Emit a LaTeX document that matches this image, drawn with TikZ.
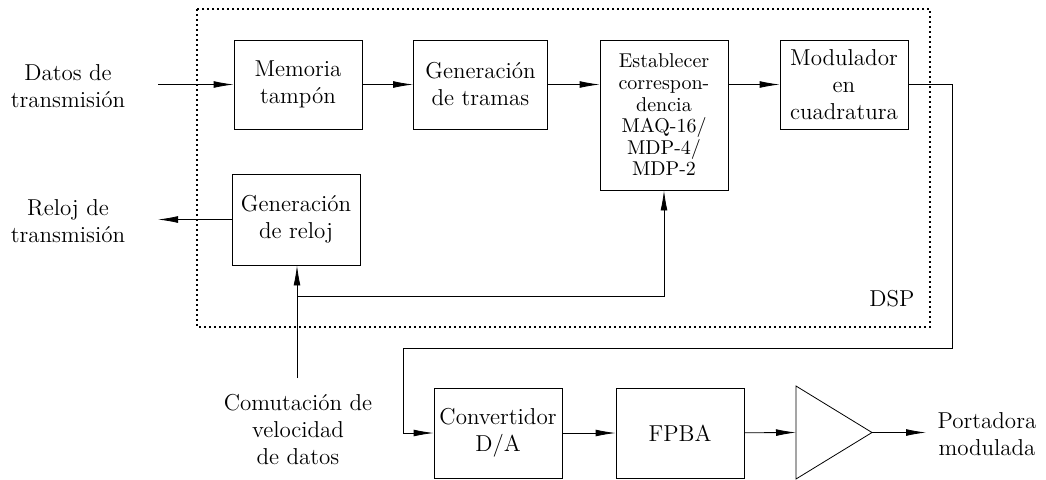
\documentclass[tikz,border=0pt]{standalone}
\usetikzlibrary{arrows.meta}

\begin{document}
\begin{tikzpicture}[x=0.5pt,y=-0.5pt,
  blk/.style={draw,thin,inner sep=1pt,minimum width=64pt,minimum height=44.5pt,align=center,font=\fontsize{11.5}{13.5}\selectfont},
  lbl/.style={align=center,font=\fontsize{11.5}{13.5}\selectfont},
  >={Latex[length=10pt,width=3.4pt]}]
\useasboundingbox (0,0) rectangle (1046,479);
% DSP
\draw [line width=1pt,dash pattern=on 1.2pt off 1.3pt] (197,9) rectangle (930,327);
\node [lbl] (dsp) at (892,299) {DSP};
\node [blk] (mem) at (298,84.5) {Memoria\\tamp\'on};
\node [blk,minimum width=67pt] (tram) at (480.5,84.5) {Generaci\'on\\de tramas};
\node [blk,minimum height=75pt,font=\fontsize{10}{10.8}\selectfont] (map) at (664,115) {Establecer\\correspon-\\dencia\\MAQ-16/\\MDP-4/\\MDP-2};
\node [blk] (mod) at (844,84.5) {Modulador\\en\\cuadratura};
\node [blk,minimum height=45.5pt] (clk) at (296,219.5) {Generaci\'on\\de reloj};
\node [blk,minimum height=45pt] (dac) at (498,433) {Convertidor\\D/A};
\node [blk,minimum height=45pt] (lpf) at (680,433) {FPBA};
\draw [thin] (796,386) -- (872,432.5) -- (796,479) -- cycle;
\coordinate (ampin) at (796,432.5); \coordinate (ampout) at (872,432.5);
% textos de entrada y salida
\node [lbl] (datos) at (68,86) {Datos de\\transmisi\'on};
\node [lbl] (reloj) at (68,221) {Reloj de\\transmisi\'on};
\node [lbl] (port) at (987,434) {Portadora\\modulada};
\node [lbl] (vel) at (298,430) {Comutaci\'on de\\velocidad\\de datos};
\coordinate (din) at (158,84.5); \coordinate (cout) at (158,219.5); \coordinate (pout) at (926,432.5);
\coordinate (vin) at (297,378); \coordinate (br) at (297,296);
% conexiones
\draw [thin,->] (din) -- (mem); \draw [thin,->] (mem) -- (tram);
\draw [thin,->] (tram.east) -- (tram.east -| map.west); \draw [thin,->] (tram.east -| map.east) -- (mod.west);
\draw [thin,->] (clk.west |- cout) -- (cout);
\draw [thin,->] (vin) -- (clk.south -| vin); \draw [thin,->] (br) -| (map.south);
\draw [thin,->] (mod.east) -- (952,84.5) -- (952,348) -- (403,348) |- (dac.west);
\draw [thin,->] (dac) -- (lpf); \draw [thin,->] (lpf) -- (ampin); \draw [thin,->] (ampout) -- (pout);
\end{tikzpicture}
\end{document}
